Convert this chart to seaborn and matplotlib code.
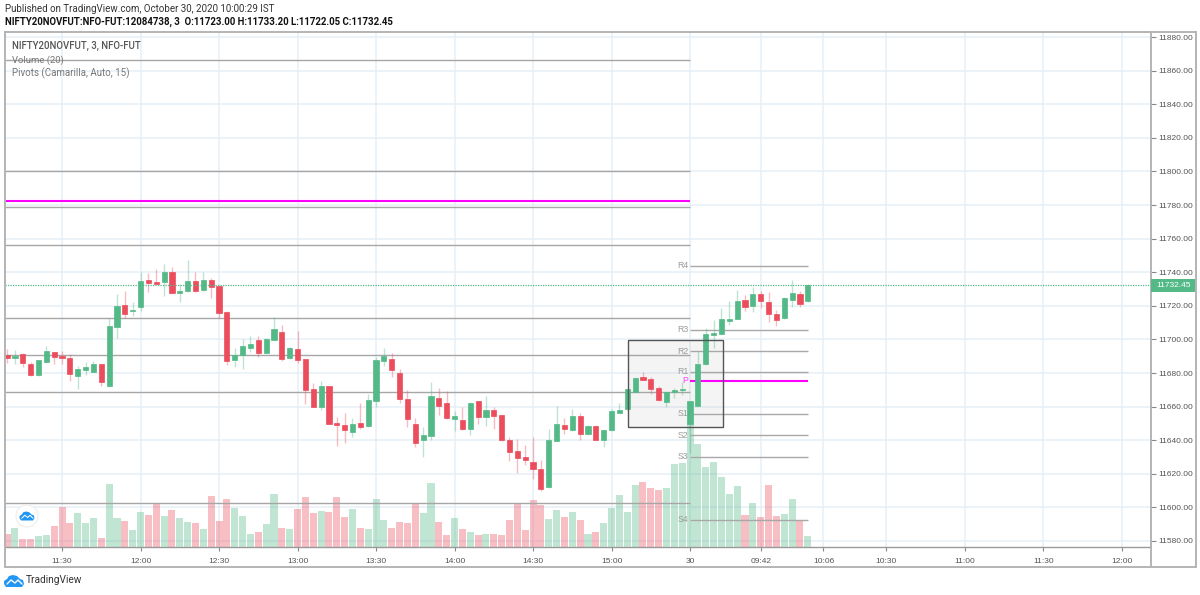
import numpy as np
import pandas as pd
import matplotlib
matplotlib.use("Agg")
import matplotlib.pyplot as plt
from matplotlib.lines import Line2D
from matplotlib.patches import Rectangle, Polygon
import seaborn as sns

# ---------- data ----------
opens = [11690.7,11688.7,11691.3,11685.3,11678.6,11686.3,11692.3,11690.1,11689.1,11678.2,
         11681.8,11680.8,11685.3,11672.3,11707.6,11720.5,11716.7,11719.5,11735.5,11734.2,
         11734.2,11740.1,11727.8,11728.8,11734.9,11729.2,11735.3,11731.8,11716.1,11687.7,
         11690.7,11694.7,11699.6,11692.1,11699.8,11704.2,11688.7,11694.1,11688.1,11670.3,
         11659.8,11672.1,11650.2,11649.1,11645.1,11650.0,11648.3,11663.5,11687.3,11688.1,
         11680.2,11664.5,11649.5,11640.1,11642.3,11665.1,11662.0,11652.8,11652.2,11646.5,
         11663.3,11653.8,11658.0,11655.0,11640.1,11633.8,11629.8,11627.0,11622.9,11612.0,
         11639.5,11649.1,11646.1,11654.4,11643.7,11648.7,11640.4,11645.9,11656.4,11658.4,
         11668.7,11677.7,11676.3,11671.1,11663.0,11668.7,11669.9,11649.5,11660.6,11685.2,
         11702.7,11703.5,11710.8,11712.2,11723.5,11720.1,11727.3,11722.1,11715.2,11712.6,
         11723.7,11727.3,11723.00]
highs = [11694.3,11693.7,11691.7,11686.3,11687.9,11696.1,11692.5,11693.1,11691.1,11684.2,
         11686.7,11687.1,11685.5,11712.5,11726.8,11729.0,11722.4,11740.1,11739.5,11741.9,
         11745.1,11742.9,11732.8,11747.2,11740.1,11740.1,11736.3,11732.0,11716.9,11694.9,
         11700.0,11702.0,11702.0,11701.0,11713.1,11708.6,11695.7,11705.2,11688.3,11673.9,
         11675.2,11672.3,11654.0,11656.4,11653.0,11662.0,11667.5,11689.7,11694.7,11691.7,
         11682.2,11669.9,11653.0,11647.7,11674.5,11671.3,11669.3,11657.4,11660.0,11662.9,
         11663.5,11666.5,11659.6,11655.2,11641.7,11640.7,11637.2,11641.7,11628.2,11646.7,
         11660.4,11653.0,11658.6,11656.0,11649.1,11648.9,11646.5,11658.6,11662.0,11670.5,
         11677.9,11680.4,11677.7,11672.3,11668.9,11670.9,11674.9,11663.6,11693.3,11707.0,
         11711.6,11718.9,11723.1,11729.4,11726.5,11731.0,11728.8,11728.3,11717.5,11725.1,
         11735.2,11728.8,11733.20]
lows = [11685.7,11685.3,11683.8,11678.2,11678.2,11686.1,11685.3,11685.3,11675.4,11670.5,
        11679.0,11680.6,11672.1,11671.9,11700.6,11712.5,11714.1,11717.1,11728.2,11732.8,
        11726.0,11727.4,11722.4,11728.4,11728.4,11728.6,11724.8,11712.5,11684.8,11683.6,
        11682.6,11692.5,11689.7,11691.7,11699.6,11687.3,11688.3,11686.1,11661.6,11659.6,
        11658.0,11649.5,11636.6,11638.5,11642.1,11646.5,11648.1,11659.6,11684.2,11677.8,
        11662.3,11648.1,11635.8,11629.8,11640.1,11655.0,11652.6,11645.5,11646.1,11643.1,
        11649.7,11648.5,11646.9,11639.5,11627.8,11620.3,11625.2,11616.9,11610.0,11611.6,
        11639.3,11643.5,11645.5,11640.1,11643.1,11640.2,11635.8,11645.7,11656.0,11658.0,
        11668.5,11675.7,11667.5,11663.6,11660.0,11665.2,11666.7,11632.6,11660.4,11685.0,
        11695.1,11703.3,11708.6,11712.0,11717.1,11716.5,11718.9,11710.6,11708.2,11712.4,
        11719.5,11719.5,11722.05]
closes = [11688.7,11689.9,11685.9,11678.6,11687.7,11693.1,11689.7,11688.7,11679.6,11682.2,
          11683.6,11685.3,11674.8,11708.0,11719.9,11714.9,11717.5,11734.6,11733.6,11733.2,
          11740.1,11727.8,11729.0,11734.9,11728.8,11735.3,11731.4,11715.5,11687.3,11690.7,
          11696.3,11697.3,11692.1,11700.0,11706.0,11688.3,11695.1,11687.7,11669.9,11659.8,
          11672.5,11649.7,11649.3,11645.9,11649.8,11647.9,11663.7,11687.5,11690.1,11681.8,
          11664.3,11652.4,11638.5,11643.1,11666.1,11660.6,11653.2,11654.2,11646.5,11662.3,
          11653.8,11658.0,11654.6,11639.9,11633.2,11629.4,11628.0,11622.9,11611.0,11640.1,
          11649.5,11646.9,11654.4,11643.7,11648.5,11640.4,11646.3,11657.4,11657.8,11670.3,
          11677.3,11675.9,11670.3,11664.0,11668.7,11670.1,11670.3,11663.4,11685.4,11703.3,
          11703.9,11712.0,11712.0,11722.7,11719.1,11727.3,11722.9,11715.2,11711.8,11724.9,
          11727.7,11721.1,11732.45]
volumes = [38,55,22,22,33,36,62,118,71,102,71,85,27,189,87,78,50,104,94,131,92,111,87,75,71,52,
           152,76,143,116,92,38,45,68,159,57,52,113,150,101,108,103,150,90,112,57,52,143,80,57,
           73,71,131,101,191,75,36,87,52,43,36,39,39,34,80,131,50,141,126,84,110,90,103,80,38,
           43,71,116,155,105,185,194,175,171,175,247,252,380,308,240,254,208,157,183,95,131,90,
           185,93,99,143,76,31]

old_pivots = [11866.3,11800.2,11778.8,11756.2,11712.7,11690.7,11668.7,11602.6]
old_pivot_p = 11782.4
new_pivot_names = ["R4","R3","R2","R1","S1","S2","S3","S4"]
new_pivots = [11743.7,11705.6,11693.0,11680.6,11655.6,11643.0,11630.0,11592.5]
new_pivot_p = 11675.2
last_price = 11732.45

time_ticks = [7,17,27,37,47,57,67,77,87,96,104,112,122,132,142]
time_labels = ["11:30","12:00","12:30","13:00","13:30","14:00","14:30","15:00","30",
               "09:42","10:06","10:30","11:00","11:30","12:00"]
price_ticks = list(range(11580, 11881, 20))
box_bars = (79.1, 91.15)
box_prices = (11647.9, 11699.6)

# ---------- style ----------
W, H = 1200, 595
GREEN, RED = "#53b987", "#eb4d5c"
GRID = "#e6eff6"
BORDER = "#b4b4b4"
sns.set_theme(style="white")
plt.rcParams["font.family"] = ["Roboto", "DejaVu Sans"]
AXFONT = ["Liberation Sans", "DejaVu Sans"]
AXSIZE = 6.0

fig = plt.figure(figsize=(W/100, H/100), dpi=100, facecolor="white")
L, R, T, B = 5, 1151, 32, 547
rect = [L/W, 1-B/H, (R-L)/W, (B-T)/H]

df = pd.DataFrame({"bar": np.arange(len(opens)), "open": opens, "high": highs, "low": lows,
                   "close": closes, "volume": volumes})
df["dir"] = np.where(df.close >= df.open, "up", "down")
xlim = ((L-7.1)/7.85, (R-7.1)/7.85)
ylim = (11580-(547-541)/1.68, 11880+(37-32)/1.68)

base = fig.add_axes(rect, zorder=1)
ax_vol = base.twinx(); ax_vol.set_zorder(2); ax_vol.patch.set_visible(False)
ax_c = base.twinx(); ax_c.set_zorder(3); ax_c.patch.set_visible(False)

# volume
sns.barplot(data=df, x="bar", y="volume", hue="dir", palette={"up": GREEN, "down": RED},
            native_scale=True, dodge=False, width=0.9, saturation=1, alpha=0.36,
            linewidth=0, legend=False, ax=ax_vol, errorbar=None)
ax_vol.set_ylim(-1.5, (B-T)*3)
ax_vol.set_yticks([]); ax_vol.set_ylabel(""); ax_vol.set_xlabel("")

# pivots
PIVOT_START = 87.0
PIVOT_END = 102.0
ax_c.hlines(old_pivots, xlim[0], PIVOT_START, color="#a6a6a6", lw=1.0)
ax_c.hlines(old_pivot_p, xlim[0], PIVOT_START, color="#ff00ff", lw=1.5)
ax_c.hlines(new_pivots, PIVOT_START, PIVOT_END, color="#a8a8a8", lw=1.0)
ax_c.hlines(new_pivot_p, PIVOT_START, PIVOT_END, color="#ff00ff", lw=1.5)
for n, p in zip(new_pivot_names, new_pivots):
    ax_c.text(86.8, p, n, ha="right", va="center", fontsize=6.3, color="#9a9a9a", family=AXFONT)
ax_c.text(86.8, new_pivot_p+0.5, "P", ha="right", va="center", fontsize=6.3, color="#ff40ff", family=AXFONT)

# selection box
ax_c.add_patch(Rectangle((box_bars[0], box_prices[0]), box_bars[1]-box_bars[0], box_prices[1]-box_prices[0],
                         facecolor="#bdbdbd", alpha=0.16, edgecolor="none", zorder=1.5))
ax_c.add_patch(Rectangle((box_bars[0], box_prices[0]), box_bars[1]-box_bars[0], box_prices[1]-box_prices[0],
                         facecolor="none", edgecolor="#555555", lw=1.0, zorder=4))

# candles
for d, c in (("up", GREEN), ("down", RED)):
    s = df[df.dir == d]
    ax_c.vlines(s.bar, s.low, s.high, color=c, alpha=0.38, lw=1.0, zorder=2)
    bot = np.minimum(s.open, s.close)
    ht = np.abs(s.close - s.open)
    ax_c.bar(s.bar, ht, bottom=bot, width=0.66, color=c, edgecolor=c, linewidth=0.5, zorder=3)

# last price
ax_c.axhline(last_price, color=GREEN, lw=0.9, ls=(0, (1, 1)), zorder=5)

ax_c.set_ylim(*ylim); ax_c.set_yticks([]); ax_c.set_ylabel("")
base.set_ylim(*ylim)
for a in (base, ax_vol, ax_c):
    a.set_xlim(*xlim)
    for sp in a.spines.values():
        sp.set_visible(False)

# axes
base.yaxis.tick_right()
base.set_yticks(price_ticks)
base.set_yticklabels([f"{p:.2f}" for p in price_ticks], family=AXFONT, fontsize=AXSIZE, color="#555555")
base.set_xticks(time_ticks)
base.set_xticklabels(time_labels, family=AXFONT, fontsize=AXSIZE, color="#555555")
base.tick_params(axis="y", which="major", right=True, length=3.5, width=0.8, color="#888888", pad=1.5)
base.tick_params(axis="x", which="major", bottom=True, length=3, width=0.8, color="#888888", pad=5)
base.grid(True, color=GRID, lw=1.1)
base.set_axisbelow(True)

# frame
def px(x, y):
    return x/W, 1-y/H
def hline(x0, x1, y, c=BORDER, lw=1.4):
    fig.add_artist(Line2D([x0/W, x1/W], [1-y/H]*2, color=c, lw=lw, zorder=10))
def vline(x, y0, y1, c=BORDER, lw=1.4):
    fig.add_artist(Line2D([x/W]*2, [1-y0/H, 1-y1/H], color=c, lw=lw, zorder=10))
hline(L, 1196, 32); hline(L, 1196, 567); hline(L, R, 547, c="#9a9a9a", lw=1.0)
vline(L, 32, 567); vline(R, 32, 567); vline(1195.5, 32, 567)

# price tag
fig.add_artist(Rectangle((R/W, 1-291.5/H), 44/W, 13/H, transform=fig.transFigure, facecolor=GREEN,
                         edgecolor="none", zorder=11))
fig.text(1156/W, 1-285/H, f"{last_price:.2f}", color="white", fontsize=AXSIZE, va="center", family=AXFONT, zorder=12)

# texts
fig.text(5/W, 1-9/H, "Published on TradingView.com, October 30, 2020 10:00:29 IST", fontsize=7.0,
         color="#333333", va="center")
fig.text(5/W, 1-22/H, "NIFTY20NOVFUT:NFO-FUT:12084738, 3  O:11723.00 H:11733.20 L:11722.05 C:11732.45",
         fontsize=6.9, color="#111111", va="center", fontweight="bold")
fig.text(12/W, 1-46/H, "NIFTY20NOVFUT, 3, NFO-FUT", fontsize=6.9, color="#555555", va="center", fontweight="medium", zorder=12)
fig.text(12/W, 1-60/H, "Volume (20)", fontsize=6.8, color="#777777", va="center", zorder=12)
fig.text(12/W, 1-73/H, "Pivots (Camarilla, Auto, 15)", fontsize=7.05, color="#777777", va="center", zorder=12)
fig.text(26/W, 1-580/H, "TradingView", fontsize=7.3, color="#333333", va="center", zorder=12)

# logo
def logo(cx, cy, s=1.0):
    shape = [(-10,3),(-10,0),(-7,-2),(-5,-5),(-1,-6),(3,-5),(6,-2),(9,-1),(10,3),(8,6),(-8,6)]
    zig = [(-7,3),(-3,-1),(1,2),(4,-1),(8,3)]
    fig.add_artist(Polygon([px(cx+a*s, cy+b*s) for a, b in shape], closed=True, transform=fig.transFigure,
                           facecolor="#2196f3", edgecolor="none", zorder=13))
    zx, zy = zip(*[px(cx+a*s, cy+b*s) for a, b in zig])
    fig.add_artist(Line2D(zx, zy, color="white", lw=1.0*s, zorder=14))

fig.add_artist(Polygon([px(27+11*np.cos(t), 516+11*np.sin(t)) for t in np.linspace(0, 2*np.pi, 40)],
                       closed=True, transform=fig.transFigure, facecolor="white", edgecolor="#f0f0f0", zorder=12))
logo(27, 516, 0.75)
logo(14, 581, 1.0)

fig.savefig("out.png", dpi=100)
